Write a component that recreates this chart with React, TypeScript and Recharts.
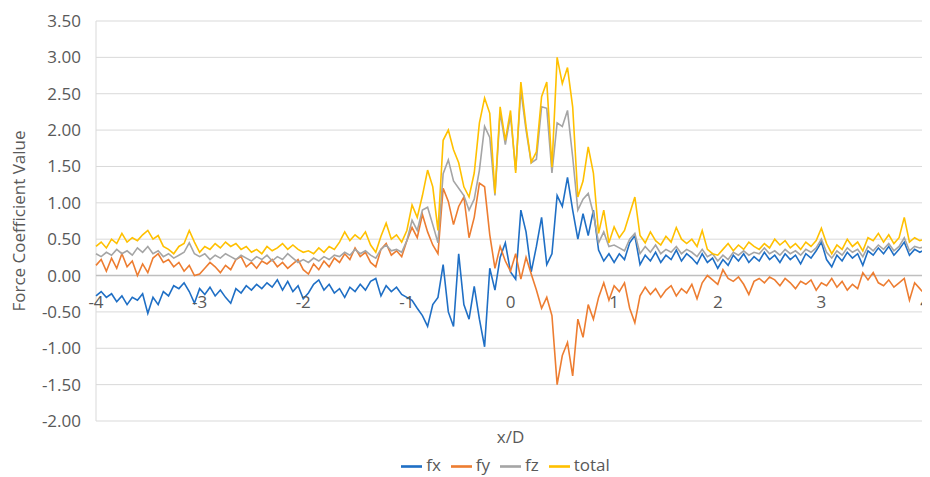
import React from 'react';
import {
  LineChart,
  Line,
  XAxis,
  YAxis,
  CartesianGrid,
  ReferenceLine,
  ReferenceDot,
  Legend,
} from 'recharts';

// Sampling positions along x/D
const xPositions = [
  -4, -3.95, -3.9, -3.85, -3.8, -3.75, -3.7, -3.65, -3.6, -3.55,
  -3.5, -3.45, -3.4, -3.35, -3.3, -3.25, -3.2, -3.15, -3.1, -3.05,
  -3, -2.95, -2.9, -2.85, -2.8, -2.75, -2.7, -2.65, -2.6, -2.55,
  -2.5, -2.45, -2.4, -2.35, -2.3, -2.25, -2.2, -2.15, -2.1, -2.05,
  -2, -1.95, -1.9, -1.85, -1.8, -1.75, -1.7, -1.65, -1.6, -1.55,
  -1.5, -1.45, -1.4, -1.35, -1.3, -1.25, -1.2, -1.15, -1.1, -1.05,
  -1, -0.95, -0.9, -0.85, -0.8, -0.75, -0.7, -0.65, -0.6, -0.55,
  -0.5, -0.45, -0.4, -0.35, -0.3, -0.25, -0.2, -0.15, -0.1, -0.05,
  0, 0.05, 0.1, 0.15, 0.2, 0.25, 0.3, 0.35, 0.4, 0.45,
  0.5, 0.55, 0.6, 0.65, 0.7, 0.75, 0.8, 0.85, 0.9, 0.95,
  1, 1.05, 1.1, 1.15, 1.2, 1.25, 1.3, 1.35, 1.4, 1.45,
  1.5, 1.55, 1.6, 1.65, 1.7, 1.75, 1.8, 1.85, 1.9, 1.95,
  2, 2.05, 2.1, 2.15, 2.2, 2.25, 2.3, 2.35, 2.4, 2.45,
  2.5, 2.55, 2.6, 2.65, 2.7, 2.75, 2.8, 2.85, 2.9, 2.95,
  3, 3.05, 3.1, 3.15, 3.2, 3.25, 3.3, 3.35, 3.4, 3.45,
  3.5, 3.55, 3.6, 3.65, 3.7, 3.75, 3.8, 3.85, 3.9, 3.95,
  4,
];

const fx = [
  -0.28, -0.22, -0.30, -0.25, -0.36, -0.28, -0.40, -0.30, -0.34, -0.25,
  -0.52, -0.30, -0.40, -0.22, -0.28, -0.14, -0.18, -0.10, -0.22, -0.38,
  -0.18, -0.26, -0.16, -0.28, -0.20, -0.30, -0.38, -0.18, -0.24, -0.14,
  -0.20, -0.12, -0.18, -0.10, -0.16, -0.06, -0.20, -0.08, -0.22, -0.14,
  -0.32, -0.24, -0.12, -0.06, -0.20, -0.12, -0.24, -0.18, -0.30, -0.16,
  -0.22, -0.12, -0.20, -0.08, -0.04, -0.28, -0.14, -0.22, -0.16, -0.26,
  -0.30, -0.34, -0.45, -0.55, -0.70, -0.40, -0.30, 0.15, -0.50, -0.70,
  0.30, -0.40, -0.60, -0.15, -0.60, -0.98, 0.10, -0.20, 0.25, 0.45,
  0.05, -0.05, 0.90, 0.60, 0.05, 0.40, 0.80, 0.15, 0.30, 1.10,
  0.95, 1.35, 0.90, 0.50, 0.85, 0.55, 0.90, 0.35, 0.20, 0.30,
  0.18, 0.30, 0.22, 0.45, 0.55, 0.15, 0.28, 0.20, 0.32, 0.18,
  0.28, 0.22, 0.35, 0.20, 0.30, 0.24, 0.16, 0.30, 0.18, 0.24,
  0.10, 0.22, 0.14, 0.28, 0.20, 0.30, 0.18, 0.26, 0.20, 0.32,
  0.22, 0.28, 0.18, 0.30, 0.22, 0.28, 0.16, 0.30, 0.24, 0.34,
  0.46, 0.22, 0.12, 0.28, 0.20, 0.32, 0.24, 0.30, 0.14, 0.34,
  0.28, 0.38, 0.30, 0.40, 0.28, 0.36, 0.46, 0.28, 0.36, 0.32,
  0.36,
];

const fy = [
  0.14, 0.22, 0.06, 0.24, 0.10, 0.30, 0.12, 0.20, 0.00, 0.16,
  0.04, 0.24, 0.30, 0.18, 0.22, 0.12, 0.18, 0.06, 0.14, 0.00,
  0.02, 0.10, 0.18, 0.12, 0.04, 0.14, 0.08, 0.22, 0.26, 0.12,
  0.18, 0.10, 0.20, 0.16, 0.22, 0.12, 0.18, 0.10, 0.16, 0.22,
  0.08, 0.02, 0.16, 0.08, 0.20, 0.12, 0.24, 0.18, 0.30, 0.22,
  0.38, 0.26, 0.32, 0.18, 0.12, 0.36, 0.44, 0.28, 0.34, 0.26,
  0.48, 0.66, 0.52, 0.84, 0.60, 0.42, 0.30, 1.20, 1.02, 0.70,
  0.95, 1.08, 0.52, 0.80, 1.27, 1.22, 0.56, 0.10, 0.40, 0.20,
  0.06, 0.30, -0.05, 0.25, 0.02, -0.20, -0.45, -0.30, -0.55, -1.50,
  -1.10, -0.92, -1.38, -0.60, -0.85, -0.40, -0.60, -0.30, -0.10, -0.34,
  -0.14, -0.22, -0.10, -0.45, -0.65, -0.28, -0.16, -0.26, -0.18, -0.30,
  -0.20, -0.14, -0.28, -0.18, -0.24, -0.12, -0.32, -0.10, 0.00, -0.06,
  -0.12, 0.08, -0.04, -0.08, -0.02, -0.12, -0.26, -0.08, -0.04, -0.10,
  -0.02, -0.06, -0.14, -0.04, -0.10, -0.18, -0.08, -0.12, -0.06, -0.20,
  -0.10, -0.14, -0.04, -0.16, -0.08, -0.20, -0.12, -0.18, 0.04, -0.06,
  0.04, -0.10, -0.14, -0.06, -0.16, -0.10, -0.04, -0.34, -0.10, -0.18,
  -0.26,
];

const fz = [
  0.30, 0.26, 0.32, 0.28, 0.36, 0.30, 0.34, 0.28, 0.38, 0.32,
  0.40, 0.30, 0.34, 0.26, 0.30, 0.24, 0.28, 0.32, 0.45, 0.30,
  0.26, 0.30, 0.22, 0.28, 0.24, 0.30, 0.26, 0.22, 0.28, 0.24,
  0.20, 0.26, 0.22, 0.28, 0.20, 0.26, 0.22, 0.30, 0.24, 0.18,
  0.22, 0.18, 0.24, 0.20, 0.26, 0.22, 0.28, 0.26, 0.32, 0.28,
  0.36, 0.30, 0.34, 0.28, 0.24, 0.36, 0.42, 0.34, 0.36, 0.32,
  0.48, 0.76, 0.62, 0.90, 0.94, 0.70, 0.45, 1.40, 1.59, 1.30,
  1.20, 1.10, 0.90, 1.05, 1.45, 2.05, 1.90, 1.10, 2.25, 1.80,
  2.20, 1.45, 2.55, 2.00, 1.55, 1.60, 2.32, 2.30, 1.41, 2.10,
  2.05, 2.27, 1.63, 0.90, 1.05, 1.13, 0.85, 0.45, 0.60, 0.40,
  0.42, 0.38, 0.34, 0.50, 0.58, 0.30, 0.40, 0.32, 0.42, 0.30,
  0.36, 0.32, 0.40, 0.30, 0.36, 0.32, 0.26, 0.36, 0.26, 0.30,
  0.20, 0.28, 0.22, 0.32, 0.28, 0.34, 0.28, 0.32, 0.30, 0.38,
  0.30, 0.34, 0.28, 0.36, 0.30, 0.34, 0.28, 0.36, 0.32, 0.38,
  0.50, 0.32, 0.24, 0.34, 0.28, 0.38, 0.32, 0.36, 0.26, 0.40,
  0.34, 0.42, 0.36, 0.44, 0.34, 0.40, 0.52, 0.34, 0.40, 0.38,
  0.40,
];

const total = [
  0.40, 0.46, 0.38, 0.50, 0.44, 0.58, 0.46, 0.52, 0.48, 0.56,
  0.62, 0.50, 0.55, 0.40, 0.36, 0.30, 0.40, 0.44, 0.62, 0.46,
  0.32, 0.40, 0.36, 0.44, 0.38, 0.46, 0.40, 0.44, 0.36, 0.40,
  0.32, 0.36, 0.30, 0.40, 0.34, 0.38, 0.44, 0.36, 0.42, 0.36,
  0.32, 0.34, 0.30, 0.38, 0.32, 0.40, 0.36, 0.46, 0.60, 0.48,
  0.56, 0.50, 0.60, 0.42, 0.32, 0.54, 0.72, 0.50, 0.56, 0.46,
  0.62, 0.97, 0.80, 1.10, 1.45, 1.22, 0.62, 1.86, 2.00, 1.73,
  1.55, 1.22, 1.08, 1.41, 2.10, 2.44, 2.23, 1.13, 2.32, 1.86,
  2.27, 1.41, 2.66, 2.05, 1.56, 1.70, 2.46, 2.66, 1.49, 3.00,
  2.64, 2.86, 2.32, 1.08, 1.30, 1.77, 1.41, 0.58, 0.90, 0.45,
  0.67, 0.52, 0.62, 0.85, 1.08, 0.55, 0.45, 0.60, 0.48, 0.42,
  0.54, 0.46, 0.66, 0.50, 0.44, 0.50, 0.40, 0.62, 0.36, 0.30,
  0.28, 0.36, 0.44, 0.34, 0.42, 0.36, 0.46, 0.40, 0.36, 0.44,
  0.38, 0.50, 0.42, 0.48, 0.38, 0.44, 0.36, 0.46, 0.40, 0.48,
  0.65, 0.44, 0.30, 0.42, 0.36, 0.50, 0.40, 0.46, 0.34, 0.52,
  0.48, 0.58, 0.46, 0.56, 0.44, 0.52, 0.80, 0.46, 0.52, 0.48,
  0.50,
];

const xTicks = [-4, -3, -2, -1, 0, 1, 2, 3, 4];
const yTicks = [-2, -1.5, -1, -0.5, 0, 0.5, 1, 1.5, 2, 2.5, 3, 3.5];

const rows = xPositions.map((x, i) => ({
  x,
  fx: fx[i],
  fy: fy[i],
  fz: fz[i],
  total: total[i],
}));

const FONT = '"Open Sans", "Noto Sans", sans-serif';
const TEXT = '#595959';
const Y_AXIS_WIDTH = 88;
const RIGHT_MARGIN = 5;

export default function App() {
  return (
    <div style={{ fontFamily: FONT }}>
      <LineChart
        width={922}
        height={469}
        data={rows}
        margin={{ top: 13, right: RIGHT_MARGIN, bottom: 0, left: 0 }}
      >
        <CartesianGrid stroke="#d9d9d9" strokeWidth={1} />
        <XAxis
          dataKey="x"
          type="number"
          domain={[-4, 4]}
          ticks={xTicks}
          tick={false}
          tickLine={false}
          axisLine={false}
          height={32}
          label={{ value: 'x/D', position: 'center', fontSize: 17, fill: TEXT }}
        />
        <YAxis
          type="number"
          domain={[-2, 3.5]}
          ticks={yTicks}
          width={Y_AXIS_WIDTH}
          axisLine={false}
          tickLine={false}
          tickMargin={9}
          tick={{ fontSize: 17, fill: TEXT }}
          tickFormatter={(v: number) => v.toFixed(2)}
          label={{
            value: 'Force Coefficient Value',
            angle: -90,
            position: 'insideLeft',
            offset: 11,
            fontSize: 17,
            fill: TEXT,
            style: { textAnchor: 'middle' },
          }}
        />
        <ReferenceLine y={0} stroke="#bfbfbf" strokeWidth={1.5} />
        {xTicks.map((t) => (
          <ReferenceDot
            key={t}
            x={t}
            y={0}
            r={0}
            fill="none"
            stroke="none"
            label={{ value: String(t), position: 'bottom', offset: 20, fontSize: 17, fill: TEXT }}
          />
        ))}
        <Line type="linear" dataKey="fx" name="fx" stroke="#1F6FC5" strokeWidth={1.6} dot={false} isAnimationActive={false} legendType="plainline" />
        <Line type="linear" dataKey="fy" name="fy" stroke="#ED7D31" strokeWidth={1.6} dot={false} isAnimationActive={false} legendType="plainline" />
        <Line type="linear" dataKey="fz" name="fz" stroke="#A5A5A5" strokeWidth={1.6} dot={false} isAnimationActive={false} legendType="plainline" />
        <Line type="linear" dataKey="total" name="total" stroke="#FFC000" strokeWidth={1.6} dot={false} isAnimationActive={false} legendType="plainline" />
        <Legend
          verticalAlign="bottom"
          height={24}
          iconSize={21}
          wrapperStyle={{
            fontSize: 17,
            fontFamily: FONT,
            paddingLeft: Y_AXIS_WIDTH,
            boxSizing: 'border-box',
          }}
          formatter={(value: string) => <span style={{ color: TEXT }}>{value}</span>}
        />
      </LineChart>
    </div>
  );
}
